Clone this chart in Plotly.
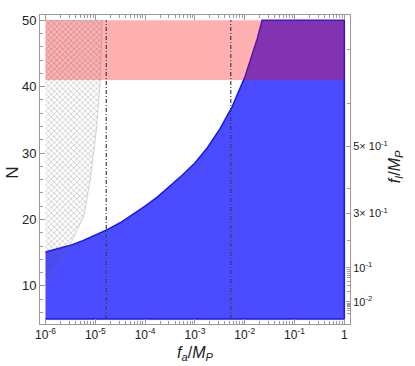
import plotly.graph_objects as go

# blue (allowed) region boundary, N vs f_a/M_P
fa_blue = [1e-6, 1.78e-6, 3.16e-6, 5.62e-6, 1e-5, 1.78e-5, 3.16e-5, 5.62e-5, 1e-4,
           1.78e-4, 3.16e-4, 5.62e-4, 1e-3, 1.78e-3, 3.16e-3, 5.62e-3, 1e-2,
           1.41e-2, 1.78e-2, 2.24e-2]
n_blue = [15.1, 15.6, 16.1, 16.8, 17.6, 18.5, 19.5, 20.7, 22.0,
          23.4, 25.0, 26.7, 28.5, 30.8, 33.6, 37.0, 41.4,
          44.7, 47.2, 50.0]

# cross-hatched region boundary
fa_hatch = [1e-6, 1.78e-6, 3.39e-6, 5.89e-6, 7.94e-6, 9.33e-6, 1.07e-5, 1.26e-5, 1.38e-5]
n_hatch = [10.5, 13.2, 16.75, 20.5, 26.0, 30.0, 34.0, 41.0, 50.0]

# pink band
n_band = [41, 50]
fa_span = [1e-6, 1]
n_span = [5, 50]

# vertical dash-dot lines
fa_vlines = [1.66e-5, 5.25e-3]

# x ticks
x_tickvals = [1e-6, 1e-5, 1e-4, 1e-3, 1e-2, 1e-1, 1]
x_ticktext = ["10<sup>-6</sup>", "10<sup>-5</sup>", "10<sup>-4</sup>", "10<sup>-3</sup>",
              "10<sup>-2</sup>", "10<sup>-1</sup>", "1"]

# right axis (f_I/M_P) ticks, placed at N positions
fi_tick_n = [7.57, 12.7, 20.9, 31.0]
fi_ticktext = ["10<sup>-2</sup>", "10<sup>-1</sup>", "3× 10<sup>-1</sup>", "5× 10<sup>-1</sup>"]
fi_minor_n = [5.8, 6.3, 6.6, 6.9, 7.1, 7.25, 7.4, 9.1, 10.0, 10.7, 11.2, 11.6, 11.9, 12.2, 12.45,
              16.8, 24.6, 37.4, 45.6]

x_minor = [k * 10.0 ** e for e in range(-6, 0) for k in range(2, 10)]

font = "Liberation Sans, Arial, sans-serif"
frame = "#9a9a9a"

fig = go.Figure()

# blue region
fig.add_trace(go.Scatter(
    x=fa_blue + [fa_span[1], fa_span[1], fa_span[0]],
    y=n_blue + [n_span[1], n_span[0], n_span[0]],
    fill="toself", fillcolor="rgb(75,75,255)",
    mode="lines", line=dict(color="rgb(25,25,235)", width=1.5),
    hoverinfo="skip", showlegend=False
))

# pink band
fig.add_trace(go.Scatter(
    x=[fa_span[0], fa_span[1], fa_span[1], fa_span[0]],
    y=[n_band[0], n_band[0], n_band[1], n_band[1]],
    fill="toself", fillcolor="rgba(255,0,0,0.31)",
    mode="lines", line=dict(width=0),
    hoverinfo="skip", showlegend=False
))

# cross-hatched region
fig.add_trace(go.Scatter(
    x=fa_hatch + [fa_span[0]],
    y=n_hatch + [n_span[1]],
    fill="toself", fillcolor="rgba(0,0,0,0)",
    fillpattern=dict(shape="x", size=4, solidity=0.3,
                     fgcolor="rgba(70,70,70,0.7)", bgcolor="rgba(0,0,0,0)"),
    mode="lines", line=dict(color="rgba(120,120,120,0.5)", width=0.6),
    hoverinfo="skip", showlegend=False
))

# dash-dot verticals
for xv in fa_vlines:
    fig.add_trace(go.Scatter(
        x=[xv, xv], y=n_span, mode="lines",
        line=dict(color="rgb(60,60,80)", width=1.2, dash="4px,2px,1px,2px"),
        hoverinfo="skip", showlegend=False
    ))

# invisible trace to activate right axis
fig.add_trace(go.Scatter(x=[fa_span[0]], y=[n_span[0]], yaxis="y2",
                         mode="markers", marker=dict(opacity=0),
                         hoverinfo="skip", showlegend=False))

yrange = [4.25, 50.8]

fig.update_layout(
    width=415, height=366,
    margin=dict(l=40, r=65, t=15, b=42),
    paper_bgcolor="white", plot_bgcolor="white",
    font=dict(family=font, size=12, color="#222"),
    xaxis=dict(
        type="log", range=[-6.11, 0.114], automargin=False,
        tickmode="array", tickvals=x_tickvals, ticktext=x_ticktext,
        ticks="inside", ticklen=5, tickcolor=frame, tickwidth=1,
        minor=dict(tickmode="array", tickvals=x_minor, ticks="inside",
                   ticklen=3, tickcolor=frame),
        showline=True, linecolor=frame, linewidth=1, mirror="ticks",
        showgrid=False, zeroline=False,
        tickfont=dict(size=12),
    ),
    yaxis=dict(
        range=yrange, automargin=False,
        tickmode="array", tickvals=[10, 20, 30, 40, 50],
        ticks="inside", ticklen=5, tickcolor=frame,
        minor=dict(dtick=2, tick0=0, ticks="inside", ticklen=3, tickcolor=frame),
        showline=True, linecolor=frame, linewidth=1, mirror=False,
        showgrid=False, zeroline=False,
        tickfont=dict(size=13),
    ),
    yaxis2=dict(
        range=yrange, overlaying="y", side="right", automargin=False,
        tickmode="array", tickvals=fi_tick_n, ticktext=fi_ticktext,
        ticks="inside", ticklen=4, tickcolor=frame,
        minor=dict(tickmode="array", tickvals=fi_minor_n, ticks="inside",
                   ticklen=3, tickcolor=frame),
        showline=True, linecolor=frame, linewidth=1,
        showgrid=False, zeroline=False,
        tickfont=dict(size=11),
    ),
    annotations=[
        dict(text="N", xref="paper", yref="paper", x=-0.09, y=0.49,
             xanchor="center", yanchor="middle",
             textangle=-90, showarrow=False, font=dict(size=17)),
        dict(text="<i>f<sub>a</sub></i>/<i>M<sub>P</sub></i>", xref="paper", yref="paper",
             x=0.5, y=-0.095, xanchor="center", yanchor="middle",
             showarrow=False, font=dict(size=16)),
        dict(text="<i>f<sub>I</sub></i>/<i>M<sub>P</sub></i>", xref="paper", yref="paper",
             x=1.145, y=0.51, xanchor="center", yanchor="middle",
             textangle=-90, showarrow=False, font=dict(size=16)),
    ],
)

# drop the browser's default body margin so the figure sits at the page origin
fig.write_html("out.html", config={"displayModeBar": False},
               post_script="document.body.style.margin='0px';")
